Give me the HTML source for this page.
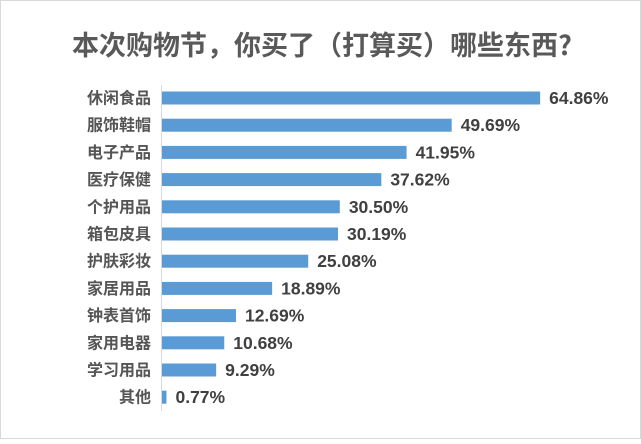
<!DOCTYPE html>
<html><head><meta charset="utf-8"><style>
html,body{margin:0;padding:0;background:#fff;}
body{width:641px;height:439px;overflow:hidden;}
svg text{font-family:"Noto Sans CJK SC","Liberation Sans",sans-serif;font-weight:700;}
svg text.val{font-family:"Liberation Sans",sans-serif;font-weight:700;}
</style></head><body>
<svg id="chart" width="641" height="439" viewBox="0 0 641 439" xmlns="http://www.w3.org/2000/svg">
<rect x="0.5" y="0.5" width="640" height="438" fill="#fff" stroke="#d9d9d9"/>
<text x="322" y="55" text-anchor="middle" font-size="27" fill="#595959">本次购物节，你买了（打算买）哪些东西?</text>
<line x1="161.5" y1="85" x2="161.5" y2="411" stroke="#d9d9d9" stroke-width="1"/>
<g id="bars"></g>
</svg>
<script>
const categories=["休闲食品","服饰鞋帽","电子产品","医疗保健","个护用品","箱包皮具","护肤彩妆","家居用品","钟表首饰","家用电器","学习用品","其他"];
const values=[64.86,49.69,41.95,37.62,30.50,30.19,25.08,18.89,12.69,10.68,9.29,0.77];
const valueLabels=["64.86%","49.69%","41.95%","37.62%","30.50%","30.19%","25.08%","18.89%","12.69%","10.68%","9.29%","0.77%"];
const x0=162, pxPer=5.83, yTop=98, step=27.2, bh=13;
const xScale=v=>x0+v*pxPer;
const yScale=i=>yTop+i*step;
const g=document.getElementById('bars');
const ns="http://www.w3.org/2000/svg";
categories.forEach((c,i)=>{
  const cy=yScale(i);
  const r=document.createElementNS(ns,'rect');
  
  
  r.setAttribute('x',x0);r.setAttribute('y',cy-bh/2);
  r.setAttribute('width',xScale(values[i])-x0);r.setAttribute('height',bh);
  r.setAttribute('fill','#5b9bd5');
  g.appendChild(r);
  const t=document.createElementNS(ns,'text');
  
  
  t.setAttribute('x',151);t.setAttribute('y',cy+5.5);
  t.setAttribute('text-anchor','end');t.setAttribute('font-size','16');t.setAttribute('fill','#555');
  t.textContent=c;g.appendChild(t);
  const v=document.createElementNS(ns,'text');
  
  
  v.setAttribute('class','val');
  v.setAttribute('x',xScale(values[i])+9);v.setAttribute('y',cy+6);
  v.setAttribute('font-size','17.5');v.setAttribute('fill','#404040');
  v.textContent=valueLabels[i];g.appendChild(v);
});
</script>
</body></html>
